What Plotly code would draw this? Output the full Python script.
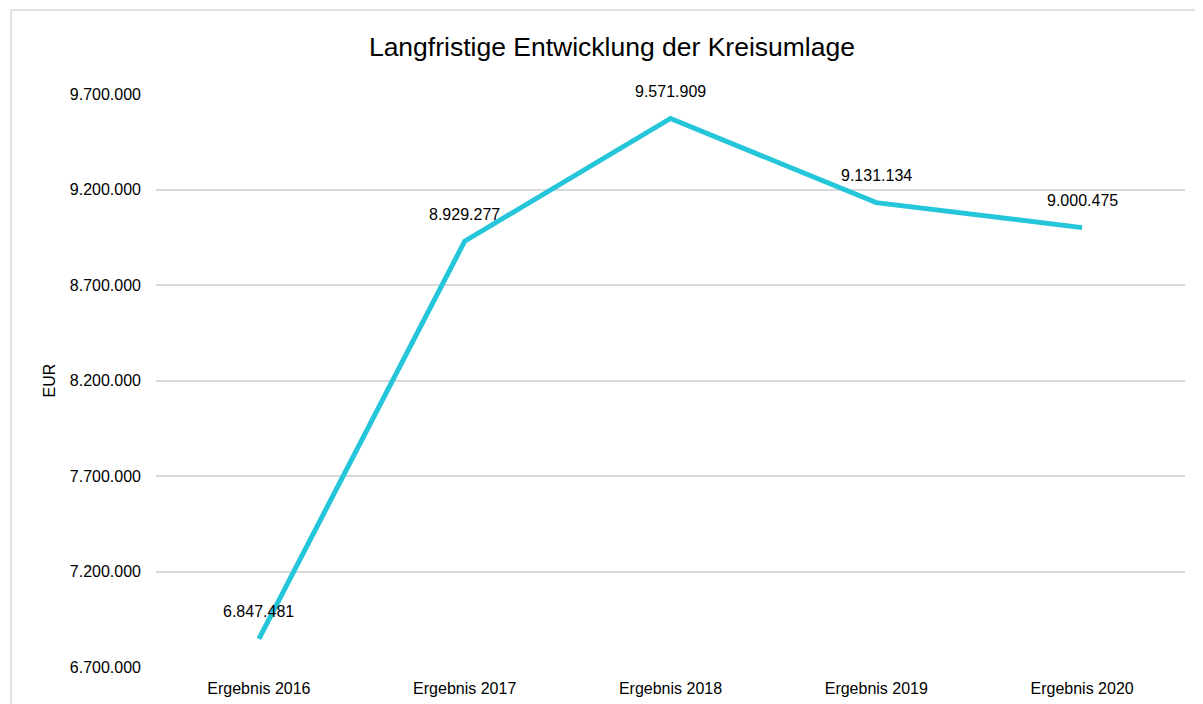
import plotly.graph_objects as go

# Daten
kategorien = ["Ergebnis 2016", "Ergebnis 2017", "Ergebnis 2018", "Ergebnis 2019", "Ergebnis 2020"]
kreisumlage = [6847481, 8929277, 9571909, 9131134, 9000475]
y_ticks = [6700000, 7200000, 7700000, 8200000, 8700000, 9200000, 9700000]


def fmt(v):
    return f"{v:,}".replace(",", ".")


fig = go.Figure(
    data=[go.Scatter(
        x=kategorien,
        y=kreisumlage,
        mode="lines",
        line=dict(color="#26C6DA", width=5),
        hoverinfo="skip",
    )]
)

for k, v in zip(kategorien, kreisumlage):
    fig.add_annotation(x=k, y=v, text=fmt(v), showarrow=False, yshift=27,
                       font=dict(size=16, color="#000000"))

# Rahmen um das Diagramm
fig.add_shape(type="rect", xref="paper", yref="paper",
              x0=-0.1409, x1=1.2, y0=-0.2, y1=1.1466,
              line=dict(color="#d9d9d9", width=1.5), layer="below")

fig.update_layout(
    width=1195,
    height=696,
    margin=dict(l=148, r=18, t=86, b=37),
    paper_bgcolor="white",
    plot_bgcolor="white",
    showlegend=False,
    font=dict(family="Liberation Sans, Arial, sans-serif", color="#000000", size=16),
    title=dict(text="Langfristige Entwicklung der Kreisumlage", x=0.5054, xanchor="center",
               y=0.945, yanchor="middle", font=dict(size=26.5)),
    xaxis=dict(
        range=[-0.5, 4.5],
        showgrid=False,
        showline=False,
        zeroline=False,
        ticks="",
        ticklabelstandoff=10,
        automargin=False,
    ),
    yaxis=dict(
        range=[6700000, 9700000],
        tickvals=y_ticks,
        ticktext=[fmt(t) for t in y_ticks],
        showgrid=True,
        gridcolor="#d9d9d9",
        gridwidth=1.5,
        zeroline=False,
        showline=False,
        ticklabelstandoff=14,
        automargin=False,
        title=dict(text="EUR", standoff=10, font=dict(size=16)),
    ),
)

fig.write_html("out.html")
